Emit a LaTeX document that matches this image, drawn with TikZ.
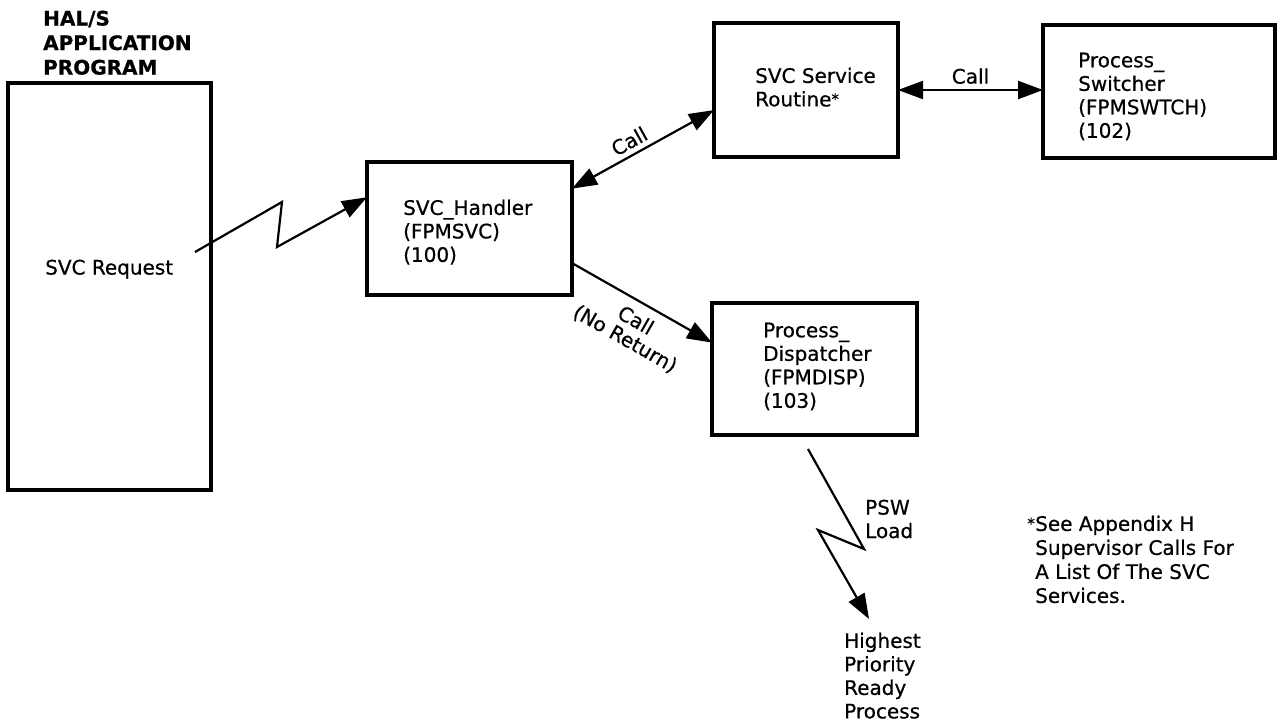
\documentclass[tikz,border=0pt]{standalone}
\usepackage{fontspec}
\setmainfont[FakeBold=0.6]{DejaVu Sans}
\usetikzlibrary{arrows.meta,calc}
\tikzset{
  box/.style={draw, line width=3.2pt, inner sep=0pt, outer sep=0pt},
  txt/.style={inner sep=0pt, anchor=north west, align=left, font=\fontsize{20}{23.5}\selectfont},
  conn/.style={line width=2.2pt, line join=miter},
  tip/.style={-{Triangle[length=25pt,width=18pt]}},
  dtip/.style={{Triangle[length=25pt,width=18pt]}-{Triangle[length=25pt,width=18pt]}},
  lbl/.style={inner sep=2pt, font=\fontsize{20}{22}\selectfont, align=center}
}
\newcommand{\myast}{{\fontsize{15}{15}\selectfont\raisebox{2pt}{*}}}
\begin{document}
\begin{tikzpicture}[x=1pt,y=-1pt]
\useasboundingbox (0,0) rectangle (1277,723);
% boxes
\node[box, minimum width=203, minimum height=407] (app) at (109.5,286.5) {};
\node[box, minimum width=205, minimum height=133] (hdl) at (469.5,228.5) {};
\node[box, minimum width=184, minimum height=134] (svr) at (806,90) {};
\node[box, minimum width=232, minimum height=133] (swt) at (1159,91.5) {};
\node[box, minimum width=205, minimum height=132] (dsp) at (814.5,369) {};
% texts
\node[txt, font=\bfseries\fontsize{20}{24.5}\selectfont] (hdr) at (43,10.5) {HAL/S\\APPLICATION\\PROGRAM};
\node[txt] (req) at (45,259.5) {SVC Request};
\node[txt] (hdlt) at (403,199.5) {SVC\_Handler\\(FPMSVC)\\(100)};
\node[txt] (svrt) at (755,67.5) {SVC Service\\Routine\myast};
\node[txt] (swtt) at (1078,52.5) {Process\_\\Switcher\\(FPMSWTCH)\\(102)};
\node[txt] (dspt) at (763,322.5) {Process\_\\Dispatcher\\(FPMDISP)\\(103)};
\node[txt] (psw) at (865,499.5) {PSW\\Load};
\node[txt] (hpr) at (844,632.5) {Highest\\Priority\\Ready\\Process};
\node[txt, font=\fontsize{20}{24}\selectfont] (note) at (1035,515.5) {See Appendix H\\Supervisor Calls For\\A List Of The SVC\\Services.};
\node[inner sep=0pt, anchor=north east, font=\fontsize{15}{15}\selectfont] (star) at ([yshift=-2pt]note.north west) {*};
% coordinates
\coordinate (zs) at (195,252);
\coordinate (zt) at ($(hdl.north west)!0.265!(hdl.south west)$);
\coordinate (ca) at ($(hdl.north east)!0.2!(hdl.south east)$);
\coordinate (cb) at ($(svr.north west)!0.65!(svr.south west)$);
\coordinate (na) at ($(hdl.north east)!0.76!(hdl.south east)$);
\coordinate (nb) at ($(dsp.north west)!0.3!(dsp.south west)$);
\coordinate (ps) at (808,449);
\coordinate (pt) at (869,619);
% connectors
\draw[conn, tip] (zs) -- (282,202) -- (277,247) -- (zt);
\draw[conn, dtip] (ca) -- node[lbl, sloped, above=3pt, pos=0.45] {Call} (cb);
\draw[conn, dtip] (svr.east) -- node[lbl, above=3pt, pos=0.5] {Call} (svr.east -| swt.west);
\draw[conn, tip] (na) -- node[lbl, sloped, below=7pt, pos=0.52, font=\fontsize{20}{21}\selectfont] {Call\\(No Return)} (nb);
\draw[conn, tip] (ps) -- (864,549) -- (818,530) -- (pt);
\end{tikzpicture}
\end{document}
